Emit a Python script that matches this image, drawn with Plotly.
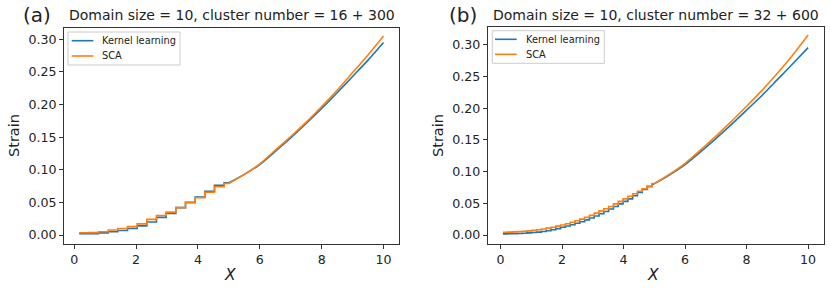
import plotly.graph_objects as go

# ---------------- data ----------------
# Panel (a): 16 clusters in the stepped region (x < 5), smooth region beyond
a_step_starts = [0.16, 0.4725, 0.785, 1.0975, 1.41, 1.7225, 2.035, 2.3475,
                 2.66, 2.9725, 3.285, 3.5975, 3.91, 4.2225, 4.535, 4.8475]
a_step_end = 5.0
a_kernel_steps = [0.0018, 0.0020, 0.0033, 0.0050, 0.0070, 0.0100, 0.0140, 0.0200,
                  0.0270, 0.0330, 0.0420, 0.0500, 0.0580, 0.0670, 0.0760, 0.0800]
a_sca_steps = [0.0035, 0.0037, 0.0050, 0.0077, 0.0100, 0.0128, 0.0170, 0.0240,
               0.0300, 0.0350, 0.0420, 0.0496, 0.0570, 0.0655, 0.0740, 0.0790]
a_smooth_x = [5.0, 5.5, 6.0, 6.5, 7.0, 7.5, 8.0, 8.5, 9.0, 9.5, 10.0]
a_kernel_smooth = [0.080, 0.093, 0.108, 0.128, 0.149, 0.171, 0.194, 0.218, 0.243, 0.268, 0.295]
a_sca_smooth = [0.079, 0.093, 0.109, 0.130, 0.151, 0.173, 0.197, 0.222, 0.249, 0.276, 0.305]

# Panel (b): 32 clusters in the stepped region
b_step_starts = [0.075, 0.23125, 0.3875, 0.54375, 0.7, 0.85625, 1.0125, 1.16875,
                 1.325, 1.48125, 1.6375, 1.79375, 1.95, 2.10625, 2.2625, 2.41875,
                 2.575, 2.73125, 2.8875, 3.04375, 3.2, 3.35625, 3.5125, 3.66875,
                 3.825, 3.98125, 4.1375, 4.29375, 4.45, 4.60625, 4.7625, 4.91875]
b_step_end = 5.0
b_kernel_steps = [0.0018, 0.0019, 0.0021, 0.0024, 0.0028, 0.0033, 0.0039, 0.0046,
                  0.0055, 0.0066, 0.0083, 0.0100, 0.0122, 0.0142, 0.0162, 0.0185,
                  0.0210, 0.0238, 0.0268, 0.0300, 0.0335, 0.0370, 0.0410, 0.0450,
                  0.0490, 0.0530, 0.0570, 0.0620, 0.0670, 0.0720, 0.0760, 0.0800]
b_sca_steps = [0.0043, 0.0046, 0.0049, 0.0053, 0.0058, 0.0065, 0.0073, 0.0083,
               0.0095, 0.0108, 0.0123, 0.0140, 0.0158, 0.0178, 0.0200, 0.0225,
               0.0250, 0.0280, 0.0310, 0.0345, 0.0380, 0.0415, 0.0450, 0.0490,
               0.0530, 0.0570, 0.0610, 0.0650, 0.0690, 0.0730, 0.0770, 0.0810]
b_smooth_x = [5.0, 5.5, 6.0, 6.5, 7.0, 7.5, 8.0, 8.5, 9.0, 9.5, 10.0]
b_kernel_smooth = [0.081, 0.095, 0.111, 0.131, 0.152, 0.174, 0.197, 0.220, 0.245, 0.270, 0.2955]
b_sca_smooth = [0.081, 0.096, 0.113, 0.134, 0.156, 0.179, 0.203, 0.228, 0.255, 0.284, 0.3155]

series_names = ["Kernel learning", "SCA"]
colors = ["#1f77b4", "#ff7f0e"]
titles = ["Domain size = 10, cluster number = 16 + 300",
          "Domain size = 10, cluster number = 32 + 600"]
panel_labels = ["(a)", "(b)"]
y_ticks = [0.00, 0.05, 0.10, 0.15, 0.20, 0.25, 0.30]
x_ticks = [0, 2, 4, 6, 8, 10]

FONT = "DejaVu Sans"
TXT = "#222222"

# The page body margin is removed by a post script, so the figure fills the window.
W, H = 830, 291


def px(x):
    return x / W


def py(y):
    return 1 - y / H


fig = go.Figure()

panels = [
    (a_step_starts, a_step_end, [a_kernel_steps, a_sca_steps], a_smooth_x,
     [a_kernel_smooth, a_sca_smooth], "x", "y"),
    (b_step_starts, b_step_end, [b_kernel_steps, b_sca_steps], b_smooth_x,
     [b_kernel_smooth, b_sca_smooth], "x2", "y2"),
]

for pi, (starts, end, steps, sx, smooth, xa, ya) in enumerate(panels):
    for si in range(2):
        lv = steps[si]
        fig.add_trace(go.Scatter(
            x=list(starts) + [end], y=list(lv) + [lv[-1]],
            mode="lines", line=dict(color=colors[si], width=1.6, shape="hv"),
            xaxis=xa, yaxis=ya, showlegend=False, hoverinfo="skip"))
        fig.add_trace(go.Scatter(
            x=sx, y=smooth[si], mode="lines",
            line=dict(color=colors[si], width=1.6, shape="spline", smoothing=0.6),
            xaxis=xa, yaxis=ya, name=series_names[si], showlegend=False))

axis_common = dict(showline=True, mirror=True, linecolor="#333333", linewidth=1,
                   ticks="outside", ticklen=4, tickcolor="#333333", showgrid=False,
                   zeroline=False, tickfont=dict(family=FONT, size=12.6, color=TXT))

fig.update_layout(
    width=W, height=H,
    margin=dict(l=0, r=0, t=0, b=0),
    paper_bgcolor="white", plot_bgcolor="white",
    font=dict(family=FONT, color=TXT),
    showlegend=False,
    xaxis=dict(domain=[px(64), px(399)], range=[-0.33, 10.5], tickvals=x_ticks,
               anchor="y", **axis_common),
    yaxis=dict(domain=[py(244), py(28)], range=[-0.0138, 0.3173], tickvals=y_ticks,
               tickformat=".2f", anchor="x", **axis_common),
    xaxis2=dict(domain=[px(487.7), px(823.5)], range=[-0.42, 10.5], tickvals=x_ticks,
                anchor="y2", **axis_common),
    yaxis2=dict(domain=[py(244), py(27)], range=[-0.0142, 0.328], tickvals=y_ticks,
                tickformat=".2f", anchor="x2", **axis_common),
)

# manual matplotlib-style legends (box, line samples, labels)
legend_boxes = [(68, 32, 180, 65), (492.3, 30.7, 604.3, 63.3)]
legend_rows = [(40.7, 56.0), (39.3, 54.3)]
legend_line_x = [(71.7, 93.3), (495.0, 516.7)]
legend_text_x = [100.0, 524.3]

shapes = []
annotations = []
for pi in range(2):
    x0, y0, x1, y1 = legend_boxes[pi]
    shapes.append(dict(type="rect", xref="paper", yref="paper",
                       x0=px(x0), x1=px(x1), y0=py(y1), y1=py(y0),
                       line=dict(color="#cccccc", width=1),
                       fillcolor="rgba(255,255,255,0.8)", layer="above"))
    for si in range(2):
        ry = legend_rows[pi][si]
        lx0, lx1 = legend_line_x[pi]
        shapes.append(dict(type="line", xref="paper", yref="paper",
                           x0=px(lx0), x1=px(lx1), y0=py(ry), y1=py(ry),
                           line=dict(color=colors[si], width=1.6), layer="above"))
        annotations.append(dict(text=series_names[si], x=px(legend_text_x[pi]), y=py(ry),
                                xref="paper", yref="paper", xanchor="left", yanchor="middle",
                                showarrow=False,
                                font=dict(family=FONT, size=9.8, color=TXT)))

    cx = [231.5, 655.6][pi]
    annotations.append(dict(text=titles[pi], x=px(cx), y=py(15), xref="paper", yref="paper",
                            xanchor="center", yanchor="middle", showarrow=False,
                            font=dict(family=FONT, size=14, color=TXT)))
    annotations.append(dict(text=panel_labels[pi], x=px([37, 463][pi]), y=py(15),
                            xref="paper", yref="paper", xanchor="center", yanchor="middle",
                            showarrow=False, font=dict(family=FONT, size=20, color=TXT)))
    annotations.append(dict(text="Strain", x=px([14, 438][pi]), y=py(136),
                            xref="paper", yref="paper", xanchor="center", yanchor="middle",
                            textangle=-90, showarrow=False,
                            font=dict(family=FONT, size=14.5, color=TXT)))
    annotations.append(dict(text="<i>X</i>", x=px([230, 653][pi]), y=py(275),
                            xref="paper", yref="paper", xanchor="center", yanchor="middle",
                            showarrow=False, font=dict(family=FONT, size=15.5, color=TXT)))

fig.update_layout(shapes=shapes, annotations=annotations)

fig.write_html("out.html",
               config={"displayModeBar": False},
               post_script="document.body.style.margin='0';document.body.style.padding='0';")
